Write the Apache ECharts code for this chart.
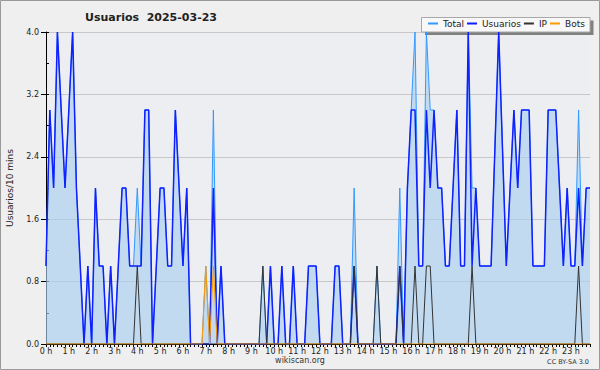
<!DOCTYPE html>
<html><head><meta charset="utf-8">
<script src="https://cdn.jsdelivr.net/npm/echarts@6/dist/echarts.min.js"></script>
<style>html,body{margin:0;padding:0;background:#efefef}#c{width:600px;height:370px}</style>
</head><body><div id="c"></div>
<script>
const hourLabels = ['0 h','1 h','2 h','3 h','4 h','5 h','6 h','7 h','8 h','9 h','10 h','11 h','12 h','13 h','14 h','15 h','16 h','17 h','18 h','19 h','20 h','21 h','22 h','23 h'];
const seriesNames = ['Total','Usuarios','IP','Bots'];
const seriesColors = ['#3399ff','#1020ff','#333333','#ff9900'];
const total = [
  1,3,2,4,3,2,3,4,2,1,0,1,
  0,2,1,1,0,1,0,1,2,2,1,1,
  2,1,3,3,0,1,2,2,1,1,3,2,
  1,2,0,0,0,0,1,0,3,0,1,0,
  0,0,0,0,0,0,0,0,0,1,0,1,
  0,0,1,0,0,1,0,0,0,1,1,1,
  0,0,0,0,1,1,0,0,0,2,0,0,
  0,0,0,1,0,0,0,0,0,2,0,2,
  3,4,1,1,4,3,3,2,2,1,1,2,
  3,1,1,4,2,2,1,1,1,1,2.5,4,
  2.5,1,2,3,2,3,3,3,1,1,1,1,
  3,3,3,2,1,2,1,1,3,1,2,2
];
const usuarios = [
  1,3,2,4,3,2,3,4,2,1,0,1,
  0,2,1,1,0,1,0,1,2,2,1,1,
  1,1,3,3,0,1,2,2,1,1,3,2,
  1,2,0,0,0,0,0,0,2,0,1,0,
  0,0,0,0,0,0,0,0,0,0,0,1,
  0,0,1,0,0,1,0,0,0,1,1,1,
  0,0,0,0,1,1,0,0,0,1,0,0,
  0,0,0,0,0,0,0,0,0,1,0,2,
  3,3,1,1,3,2,3,2,2,1,1,2,
  3,1,1,4,1,2,1,1,1,1,2.5,4,
  2.5,1,2,3,2,3,3,3,1,1,1,1,
  3,3,3,2,1,2,1,1,2,1,2,2
];
const ip = [
  0,0,0,0,0,0,0,0,0,0,0,0,
  0,0,0,0,0,0,0,0,0,0,0,0,
  1,0,0,0,0,0,0,0,0,0,0,0,
  0,0,0,0,0,0,0,0,0,0,0,0,
  0,0,0,0,0,0,0,0,0,1,0,0,
  0,0,0,0,0,0,0,0,0,0,0,0,
  0,0,0,0,0,0,0,0,0,1,0,0,
  0,0,0,1,0,0,0,0,0,1,0,0,
  0,1,0,0,1,1,0,0,0,0,0,0,
  0,0,0,0,1,0,0,0,0,0,0,0,
  0,0,0,0,0,0,0,0,0,0,0,0,
  0,0,0,0,0,0,0,0,1,0,0,0
];
const bots = [
  0,0,0,0,0,0,0,0,0,0,0,0,
  0,0,0,0,0,0,0,0,0,0,0,0,
  0,0,0,0,0,0,0,0,0,0,0,0,
  0,0,0,0,0,0,1,0,1,0,0,0,
  0,0,0,0,0,0,0,0,0,0,0,0,
  0,0,0,0,0,0,0,0,0,0,0,0,
  0,0,0,0,0,0,0,0,0,0,0,0,
  0,0,0,0,0,0,0,0,0,0,0,0,
  0,0,0,0,0,0,0,0,0,0,0,0,
  0,0,0,0,0,0,0,0,0,0,0,0,
  0,0,0,0,0,0,0,0,0,0,0,0,
  0,0,0,0,0,0,0,0,0,0,0,0
];

const categories = [];
for (let h = 0; h < 24; h++) for (let m = 0; m < 60; m += 10) categories.push(h + ':' + (m < 10 ? '0' : '') + m);

const FONT = 'DejaVu Sans';
const chart = echarts.init(document.getElementById('c'), null, {renderer: 'svg'});
chart.setOption({
  animation: false,
  backgroundColor: '#efefef',
  grid: {left: 46, right: 10, top: 32, bottom: 26, show: true, backgroundColor: '#eceef1', borderWidth: 0},
  xAxis: {
    type: 'category', data: categories, boundaryGap: false,
    axisLine: {lineStyle: {color: '#000', width: 1}},
    axisTick: {interval: 0, length: 3, lineStyle: {color: '#000'}},
    axisLabel: {interval: 5, margin: 3, fontFamily: FONT, fontSize: 8, color: '#222',
      formatter: (v, i) => hourLabels[Math.round(i / 6)]},
    splitLine: {show: false}
  },
  yAxis: [{
    type: 'value', min: 0, max: 4, interval: 0.8,
    axisLine: {show: true, lineStyle: {color: '#000'}},
    axisTick: {show: true, length: 5, lineStyle: {color: '#000'}},
    axisLabel: {margin: 7, fontFamily: FONT, fontSize: 8, color: '#222', formatter: v => v.toFixed(1)},
    splitLine: {show: true, lineStyle: {color: '#c8c8c8', width: 1}}
  }, {
    type: 'value', min: 0, max: 4, interval: 0.4, position: 'left',
    axisLine: {show: false},
    axisTick: {show: true, inside: true, length: 3, lineStyle: {color: '#000'}},
    axisLabel: {show: false}, splitLine: {show: false}
  }],
  legend: {
    left: 422, top: 17, itemWidth: 10, itemHeight: 2, itemGap: 3, icon: 'rect',
    padding: [2, 5, 2, 6], z: 20,
    textStyle: {fontFamily: FONT, fontSize: 9, color: '#222'},
    data: seriesNames.map((n, k) => ({name: n, icon: 'rect', itemStyle: {color: seriesColors[k], borderWidth: 0}}))
  },
  graphic: [
    {type: 'rect', shape: {x: 425, y: 20.5, width: 168.5, height: 14.5}, style: {fill: '#808080'}, z: 1},
    {type: 'rect', shape: {x: 421.5, y: 17.5, width: 168.5, height: 14.5}, style: {fill: '#f8f8f8', stroke: '#a8a8a8', lineWidth: 1}, z: 2},
    {type: 'text', x: 151, y: 17, style: {text: 'Usuarios\u00a0 2025-03-23', font: 'bold 11px "DejaVu Sans"', fill: '#222', align: 'center', verticalAlign: 'middle'}},
    {type: 'text', x: 10, y: 188, rotation: Math.PI / 2, style: {text: 'Usuarios/10 mins', font: '9px "DejaVu Sans"', fill: '#222', align: 'center', verticalAlign: 'middle'}},
    {type: 'text', x: 300, y: 360, style: {text: 'wikiscan.org', font: '8px "DejaVu Sans"', fill: '#333', align: 'center', verticalAlign: 'middle'}},
    {type: 'text', x: 589, y: 361.5, style: {text: 'CC BY-SA 3.0', font: '6.5px "DejaVu Sans"', fill: '#333', align: 'right', verticalAlign: 'middle'}},
    {type: 'rect', shape: {x: 0.5, y: 0.5, width: 599, height: 369}, style: {fill: 'none', stroke: '#9a9a9a', lineWidth: 1}}
  ],
  series: [
    {name: 'Total', type: 'line', data: total, symbol: 'none', z: 2,
      itemStyle: {color: seriesColors[0]}, lineStyle: {color: seriesColors[0], width: 1},
      areaStyle: {color: 'rgba(171,208,239,0.65)', opacity: 1}},
    {name: 'Usuarios', type: 'line', data: usuarios, symbol: 'none', z: 3,
      itemStyle: {color: seriesColors[1]}, lineStyle: {color: seriesColors[1], width: 1.5}},
    {name: 'IP', type: 'line', data: ip, symbol: 'none', z: 4,
      itemStyle: {color: seriesColors[2]}, lineStyle: {color: seriesColors[2], width: 1}},
    {name: 'Bots', type: 'line', data: bots, symbol: 'none', z: 5,
      itemStyle: {color: seriesColors[3]}, lineStyle: {color: seriesColors[3], width: 1}}
  ]
});
</script></body></html>
